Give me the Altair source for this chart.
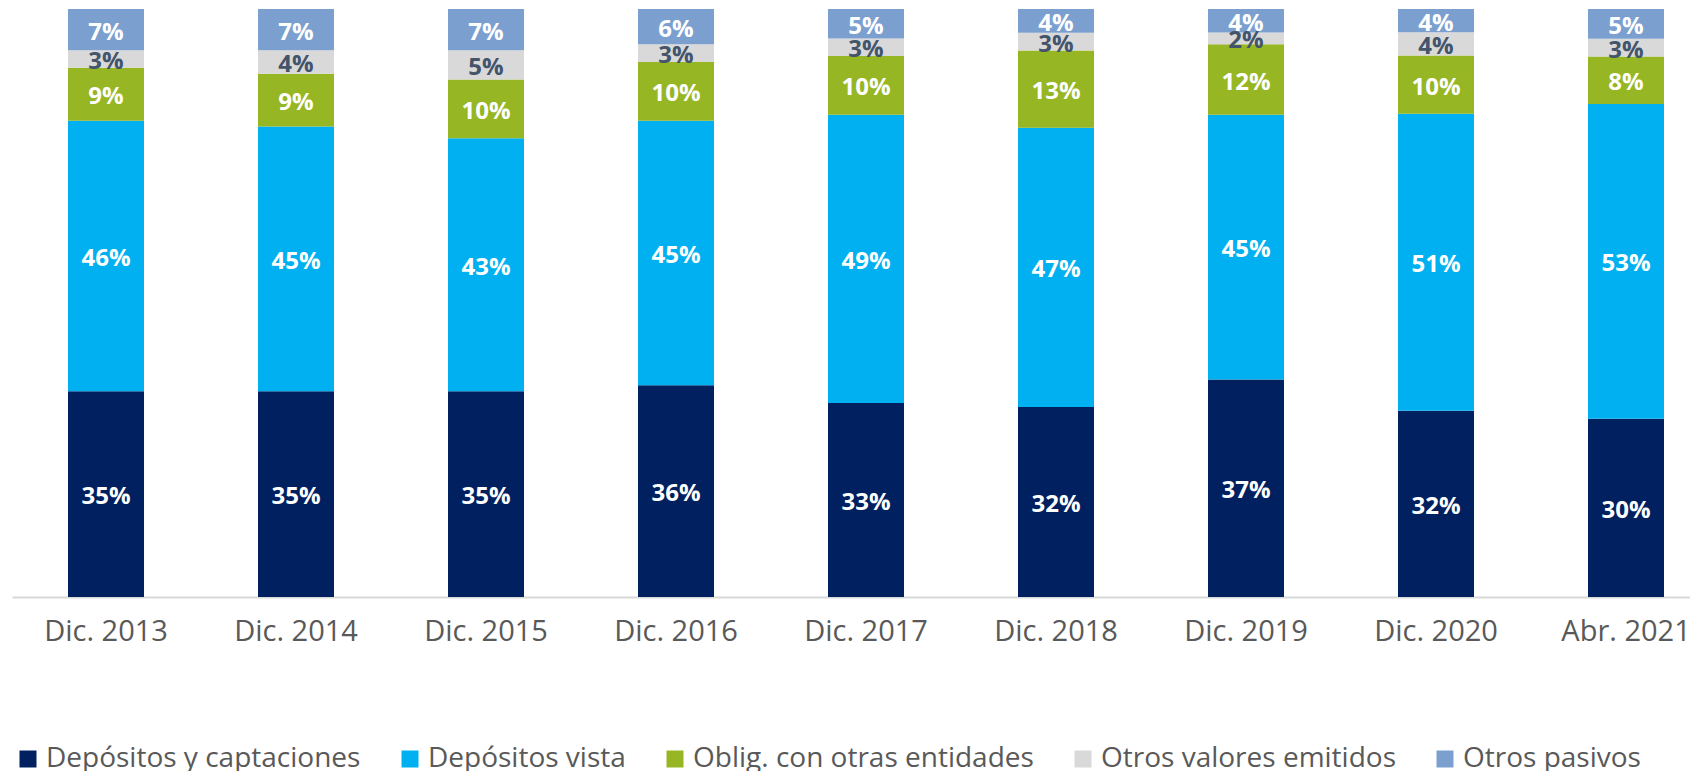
import altair as alt
import pandas as pd

periods = ["Dic. 2013", "Dic. 2014", "Dic. 2015", "Dic. 2016", "Dic. 2017",
           "Dic. 2018", "Dic. 2019", "Dic. 2020", "Abr. 2021"]
series = ["Depósitos y captaciones", "Depósitos vista", "Oblig. con otras entidades",
          "Otros valores emitidos", "Otros pasivos"]
colors = ["#002060", "#00B0F0", "#96B623", "#D9D9D9", "#7BA0CF"]

dep_capt = [35, 35, 35, 36, 33, 32, 37, 32, 30]
dep_vista = [46, 45, 43, 45, 49, 47, 45, 51, 53]
oblig = [9, 9, 10, 10, 10, 13, 12, 10, 8]
otros_val = [3, 4, 5, 3, 3, 3, 2, 4, 3]
otros_pas = [7, 7, 7, 6, 5, 4, 4, 4, 5]

values = [dep_capt, dep_vista, oblig, otros_val, otros_pas]
rows = []
for k, (s, vals) in enumerate(zip(series, values)):
    for p, v in zip(periods, vals):
        rows.append({"period": p, "series": s, "order": k, "value": v})
df = pd.DataFrame(rows)

base = (
    alt.Chart(df)
    .transform_joinaggregate(total="sum(value)", groupby=["period"])
    .transform_calculate(pct="datum.value / datum.total", label="datum.value + '%'")
    .transform_stack(stack="pct", groupby=["period"], as_=["y0", "y1"],
                     sort=[alt.SortField("order", order="ascending")])
    .transform_calculate(mid="(datum.y0 + datum.y1) / 2")
)

x = alt.X(
    "period:N", sort=periods, title=None,
    scale=alt.Scale(paddingInner=0.6, paddingOuter=0.2158, align=0.683),
    axis=alt.Axis(labelAngle=0, ticks=False, labelPadding=20, domainColor="#D9D9D9",
                  domainWidth=2, labelFont="Open Sans", labelFontSize=29,
                  labelColor="#595959", labelLimit=1000),
)
yscale = alt.Scale(domain=[0, 1], nice=False, zero=True)

bars = base.mark_bar().encode(
    x=x,
    y=alt.Y("y1:Q", scale=yscale, axis=None),
    y2="y0:Q",
    color=alt.Color(
        "series:N",
        scale=alt.Scale(domain=series, range=colors),
        legend=alt.Legend(
            orient="none", legendX=2, legendY=736, direction="horizontal", title=None,
            symbolType="square", symbolSize=289, symbolStrokeWidth=0, symbolOpacity=1,
            labelFont="Open Sans", labelFontSize=28, labelColor="#595959",
            labelOffset=4, columnPadding=35, labelLimit=1000, padding=0,
        ),
    ),
)

text = base.mark_text(font="Open Sans", fontWeight="bold", fontSize=24,
                      baseline="middle", dy=3).encode(
    x=x,
    y=alt.Y("mid:Q", scale=yscale, axis=None),
    text="label:N",
    color=alt.condition(alt.datum.series == "Otros valores emitidos",
                        alt.value("#44546A"), alt.value("white")),
)

chart = (
    alt.layer(bars, text)
    .properties(width=1678, height=588,
                padding={"left": 4, "top": 1, "right": 0, "bottom": 174},
                autosize=alt.AutoSizeParams(type="none"))
    .configure_view(stroke=None)
)

chart.save("out.html", embed_options={"renderer": "svg", "actions": False})
